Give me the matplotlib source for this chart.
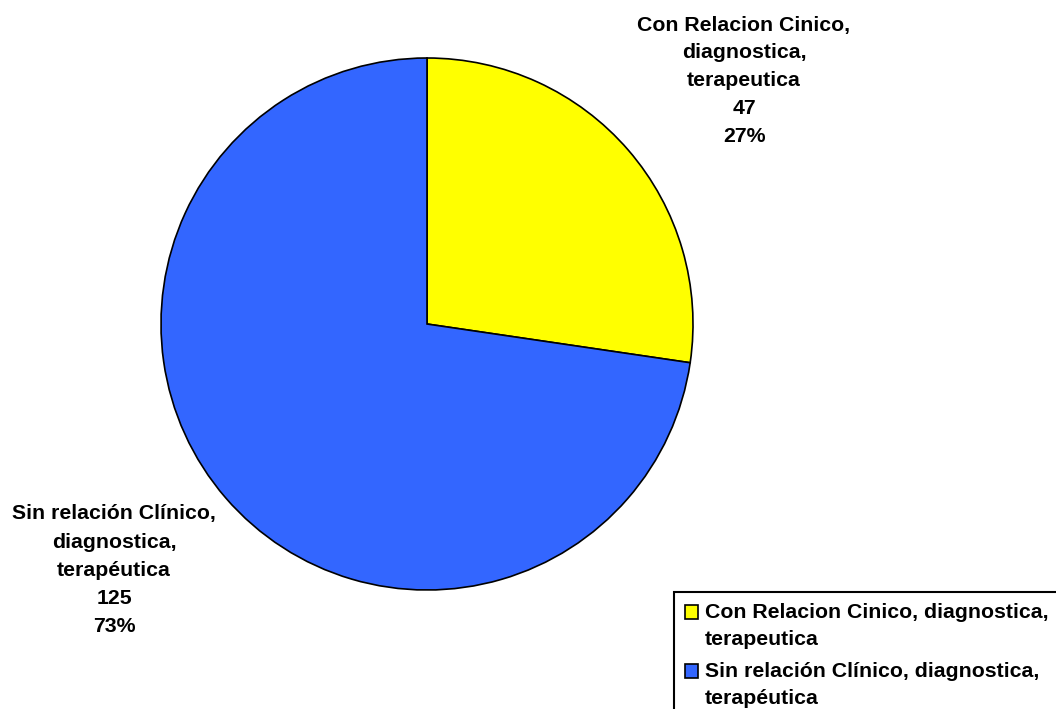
import matplotlib
matplotlib.use("Agg")
import matplotlib.pyplot as plt
from matplotlib.patches import Patch, Rectangle
from matplotlib.legend_handler import HandlerPatch

categories = ["Con Relacion Cinico,\ndiagnostica,\nterapeutica",
              "Sin relación Clínico,\ndiagnostica,\nterapéutica"]
legend_labels = ["Con Relacion Cinico, diagnostica,\nterapeutica",
                 "Sin relación Clínico, diagnostica,\nterapéutica"]
values = [47, 125]
colors = ["#FFFF00", "#3366FF"]

plt.rcParams['font.family'] = ['Liberation Sans', 'DejaVu Sans']
W, H = 1056, 709
fig = plt.figure(figsize=(W / 100, H / 100), dpi=100)
ax = fig.add_axes([0, 0, 1, 1])

wedges, _ = ax.pie(values, colors=colors, startangle=90, counterclock=False,
                   center=(427, H - 324), radius=266, frame=True,
                   wedgeprops=dict(edgecolor='black', linewidth=1.2))
ax.set_xlim(0, W)
ax.set_ylim(0, H)
ax.set_aspect('auto')
ax.axis('off')

total = sum(values)
label_pos = [(744, H - 81), (114, H - 570)]
for cat, v, (x, y) in zip(categories, values, label_pos):
    ax.text(x, y, f"{cat}\n{v}\n{round(100 * v / total)}%", ha='center', va='center',
            fontsize=15.3, fontweight='bold', linespacing=1.6)


class TopSquare(HandlerPatch):
    def create_artists(self, legend, orig_handle, xdescent, ydescent, width,
                       height, fontsize, trans):
        shift = 10
        p = Rectangle((-xdescent, -ydescent + shift), width, height,
                      facecolor=orig_handle.get_facecolor(),
                      edgecolor='black', linewidth=1.2, transform=trans)
        return [p]


handles = [Patch(facecolor=c, edgecolor='black', linewidth=1.2) for c in colors]
leg = fig.legend(handles, legend_labels, loc='upper left',
                 bbox_to_anchor=(674 / W, 1 - 592 / H),
                 prop=dict(size=15.3, weight='bold'),
                 frameon=True, fancybox=False, shadow=False,
                 handlelength=0.62, handleheight=0.62, handletextpad=0.35,
                 borderpad=0.5, labelspacing=0.6, borderaxespad=0,
                 handler_map={Patch: TopSquare()})
leg.get_frame().set_edgecolor('black')
leg.get_frame().set_linewidth(1.5)
leg.get_frame().set_alpha(1)
for t in leg.get_texts():
    t.set_linespacing(1.55)

fig.savefig("out.png", dpi=100)
